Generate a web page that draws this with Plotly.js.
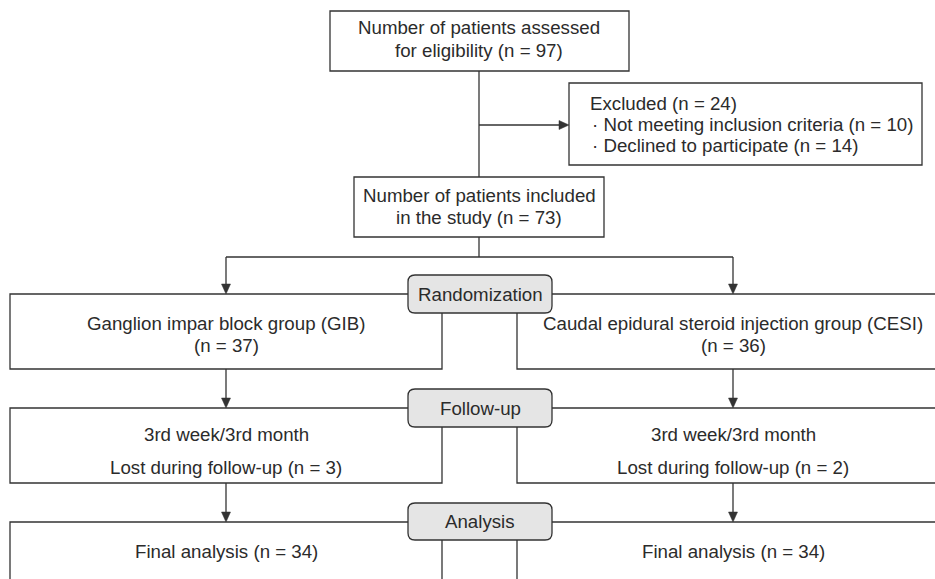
<!DOCTYPE html>
<html>
<head>
<meta charset="utf-8">
<script src="https://cdn.plot.ly/plotly-3.0.1.min.js"></script>
<style>html,body{margin:0;padding:0;background:#fff;}#chart{width:935px;height:579px;}</style>
</head>
<body>
<div id="chart"></div>
<script>
// ---- data ----
const assessedN = 97;
const includedN = 73;
const excludedReasons = ["Not meeting inclusion criteria", "Declined to participate"];
const excludedN = [10, 14];
const stages = ["Randomization", "Follow-up", "Analysis"];
const groups = ["Ganglion impar block group (GIB)", "Caudal epidural steroid injection group (CESI)"];
const groupN = [37, 36];
const followUpPeriod = ["3rd week/3rd month", "3rd week/3rd month"];
const lostN = [3, 2];
const analysedN = [34, 34];

// ---- layout geometry (pixel space) ----
const LC = '#333333', TC = '#2b2b2b', LW = 1.3;
const FONT = {family: 'Liberation Sans, Arial, sans-serif', size: 18.7, color: TC};
const shapes = [], ann = [];

function rect(x0, y0, x1, y1) {
  shapes.push({type: 'rect', xref: 'x', yref: 'y', x0, y0, x1, y1,
    line: {color: LC, width: LW}, fillcolor: 'rgba(255,255,255,0)'});
}
function line(x0, y0, x1, y1) {
  shapes.push({type: 'line', xref: 'x', yref: 'y', x0, y0, x1, y1, line: {color: LC, width: LW}});
}
function headDown(x, y) {
  shapes.push({type: 'path', xref: 'x', yref: 'y',
    path: `M${x},${y} L${x-4.5},${y-10} L${x+4.5},${y-10} Z`, fillcolor: LC, line: {color: LC, width: 0.5}});
}
function headRight(x, y) {
  shapes.push({type: 'path', xref: 'x', yref: 'y',
    path: `M${x},${y} L${x-10},${y-4.5} L${x-10},${y+4.5} Z`, fillcolor: LC, line: {color: LC, width: 0.5}});
}
function rounded(x0, y0, x1, y1, r) {
  shapes.push({type: 'path', xref: 'x', yref: 'y',
    path: `M${x0+r},${y0} L${x1-r},${y0} Q${x1},${y0} ${x1},${y0+r} L${x1},${y1-r} Q${x1},${y1} ${x1-r},${y1} L${x0+r},${y1} Q${x0},${y1} ${x0},${y1-r} L${x0},${y0+r} Q${x0},${y0} ${x0+r},${y0} Z`,
    fillcolor: '#e5e5e5', line: {color: LC, width: LW}});
}
function text(x, y, t, align) {
  ann.push({xref: 'x', yref: 'y', x, y, text: t, showarrow: false,
    xanchor: align || 'center', yanchor: 'middle', font: FONT, align: align || 'center'});
}

// top box
rect(330, 11, 629, 71);
text(479, 27, 'Number of patients assessed');
text(479, 50, 'for eligibility (n = ' + assessedN + ')');
line(479, 71, 479, 177);
line(479, 125, 560, 125); headRight(569, 125);

// excluded box
rect(569, 83, 922, 165);
const exclTotal = excludedN.reduce((a, b) => a + b, 0);
text(588, 103, 'Excluded (n = ' + exclTotal + ')', 'left');
excludedReasons.forEach((r, i) => text(590, 124 + i * 21, '\u00b7 ' + r + ' (n = ' + excludedN[i] + ')', 'left'));

// included box
rect(354, 177, 604, 237);
text(479, 195, 'Number of patients included');
text(479, 217, 'in the study (n = ' + includedN + ')');
line(479, 237, 479, 257);
line(226, 257, 733, 257);

const colX = [226, 733];
const boxL = [[10, 442], [517, 945]];
const rowTop = [294, 408, 522];
const rowBot = [369, 483, 620];
const labTop = [275, 389, 503];
const labBot = [313, 427, 540];
const arrowFrom = [257, 369, 483];

for (let r = 0; r < 3; r++) {
  for (let g = 0; g < 2; g++) {
    line(colX[g], arrowFrom[r], colX[g], rowTop[r] - 9);
    headDown(colX[g], rowTop[r]);
    rect(boxL[g][0], rowTop[r], boxL[g][1], rowBot[r]);
  }
  rounded(408, labTop[r], 552, labBot[r], 7);
  text(480, (labTop[r] + labBot[r]) / 2, stages[r]);
}

for (let g = 0; g < 2; g++) {
  text(colX[g], 323, groups[g]);
  text(colX[g], 345, '(n = ' + groupN[g] + ')');
  text(colX[g], 434, followUpPeriod[g]);
  text(colX[g], 467, 'Lost during follow-up (n = ' + lostN[g] + ')');
  text(colX[g], 551, 'Final analysis (n = ' + analysedN[g] + ')');
}

const layout = {
  width: 935, height: 579,
  margin: {l: 0, r: 0, t: 0, b: 0},
  paper_bgcolor: '#ffffff', plot_bgcolor: '#ffffff',
  xaxis: {range: [0, 935], visible: false, fixedrange: true},
  yaxis: {range: [579, 0], visible: false, fixedrange: true},
  shapes: shapes, annotations: ann, showlegend: false
};
Plotly.newPlot('chart', [], layout, {staticPlot: true, displayModeBar: false});
</script>
</body>
</html>
